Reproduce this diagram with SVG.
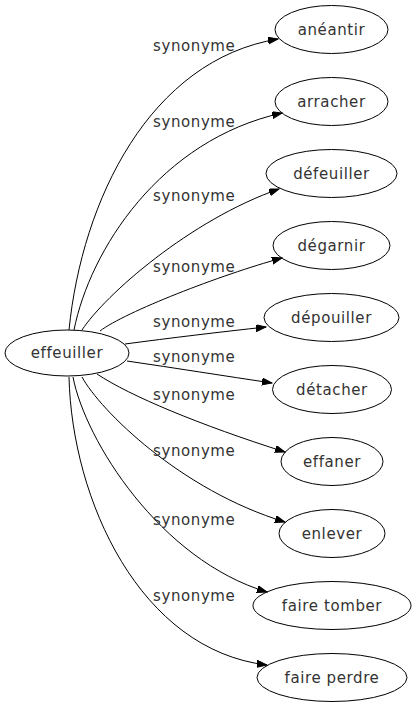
<svg xmlns="http://www.w3.org/2000/svg" width="415" height="707" viewBox="0 0 415 707">
<style>
text{font-family:"DejaVu Sans","Liberation Sans",sans-serif;font-size:15px;letter-spacing:0.6px;fill:#333}
.n text{text-anchor:middle}
.n ellipse{fill:none;stroke:#000;stroke-width:1}
#edges path{fill:none;stroke:#000;stroke-width:1;marker-end:url(#ah)}
</style>
<defs>
<marker id="ah" markerUnits="userSpaceOnUse" markerWidth="11" markerHeight="8" refX="10" refY="3.5" orient="auto" viewBox="0 0 11 8">
<path d="M0,0 L10,3.5 L0,7 z" fill="#000" stroke="#000" stroke-width="1"/>
</marker>
</defs>
<rect width="415" height="707" fill="#fff"/>
<g id="edges">
<path d="M69,330 C82,200 150,60 278,39"/>
<path d="M74,330 C90,250 160,140 282,113"/>
<path d="M82,330 C105,295 190,220 279,189"/>
<path d="M100,331 C125,312 220,275 282,258"/>
<path d="M125,344 C170,338 220,332 266,327"/>
<path d="M127,361 C175,368 225,376 272,383"/>
<path d="M97,374 C130,396 200,425 285,452"/>
<path d="M82,377 C100,410 180,490 285,522"/>
<path d="M73,377 C85,440 160,560 267,592"/>
<path d="M69,377 C72,500 140,650 267,665"/>
</g>
<g id="labels">
<text x="153" y="51">synonyme</text>
<text x="153" y="127">synonyme</text>
<text x="153" y="201">synonyme</text>
<text x="153" y="272">synonyme</text>
<text x="153" y="327">synonyme</text>
<text x="153" y="362">synonyme</text>
<text x="153" y="400">synonyme</text>
<text x="153" y="456">synonyme</text>
<text x="153" y="525">synonyme</text>
<text x="153" y="601">synonyme</text>
</g>
<g id="effeuiller" class="n"><ellipse cx="67" cy="353" rx="62" ry="23"/><text x="67" y="358">effeuiller</text></g>
<g id="aneantir" class="n"><ellipse cx="331.5" cy="29.5" rx="56.5" ry="24"/><text x="331.5" y="34.5">anéantir</text></g>
<g id="arracher" class="n"><ellipse cx="331.5" cy="101.5" rx="56.5" ry="24"/><text x="331.5" y="106.5">arracher</text></g>
<g id="defeuiller" class="n"><ellipse cx="331.5" cy="173.5" rx="65.5" ry="24"/><text x="331.5" y="178.5">défeuiller</text></g>
<g id="degarnir" class="n"><ellipse cx="331.5" cy="245.5" rx="58.5" ry="24"/><text x="331.5" y="250.5">dégarnir</text></g>
<g id="depouiller" class="n"><ellipse cx="331.5" cy="317.5" rx="67.5" ry="24"/><text x="331.5" y="322.5">dépouiller</text></g>
<g id="detacher" class="n"><ellipse cx="332" cy="389.5" rx="59.5" ry="24"/><text x="332" y="394.5">détacher</text></g>
<g id="effaner" class="n"><ellipse cx="332" cy="461.5" rx="51" ry="24"/><text x="332" y="466.5">effaner</text></g>
<g id="enlever" class="n"><ellipse cx="332" cy="533.5" rx="53" ry="24"/><text x="332" y="538.5">enlever</text></g>
<g id="faire_tomber" class="n"><ellipse cx="332" cy="605.5" rx="79" ry="24"/><text x="332" y="610.5">faire tomber</text></g>
<g id="faire_perdre" class="n"><ellipse cx="332" cy="677.5" rx="75" ry="24"/><text x="332" y="682.5">faire perdre</text></g>
</svg>
